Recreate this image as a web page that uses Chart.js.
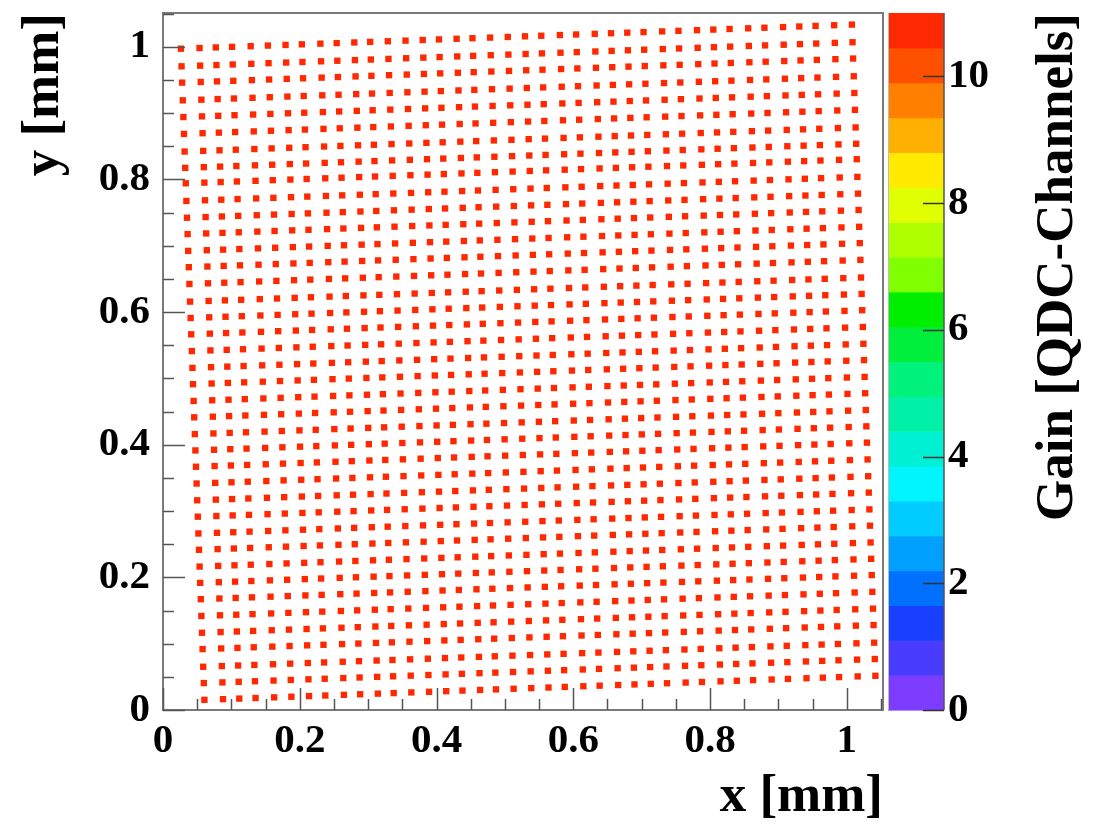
<!DOCTYPE html>
<html><head><meta charset="utf-8">
<script src="https://cdn.jsdelivr.net/npm/chart.js@4.4.1/dist/chart.umd.min.js"></script>
<style>html,body{margin:0;padding:0;background:#fff;} #wrap{width:1094px;height:829px;}</style>
</head><body><div id="wrap"><canvas id="c" width="1094" height="829"></canvas></div>
<script>
// Column x positions (mm) read along the top row of the scan grid
const colX = [0.0262,0.0534,0.0772,0.1010,0.1282,0.1534,0.1792,0.2030,0.2302,0.2540,
              0.2798,0.3030,0.3288,0.3547,0.3798,0.4036,0.4294,0.4526,0.4784,0.5042,
              0.5294,0.5532,0.5804,0.6042,0.6314,0.6552,0.6790,0.7028,0.7300,0.7538,
              0.7810,0.8048,0.8286,0.8558,0.8796,0.9068,0.9306,0.9544,0.9816,1.0075];
// Row y positions (mm) read along the left column of the scan grid
const rowY = [0.9972,0.9706,0.9460,0.9193,0.8941,0.8687,0.8421,0.8175,0.7942,0.7676,
              0.7423,0.7176,0.6923,0.6677,0.6424,0.6158,0.5911,0.5665,0.5412,0.5159,
              0.4913,0.4660,0.4413,0.4160,0.3914,0.3668,0.3415,0.3162,0.2915,0.2662,
              0.2416,0.2163,0.1917,0.1671,0.1418,0.1165,0.0918,0.0652,0.0406,0.0153];
// Measured tilt of the grid: x shift per mm going down, y rise per mm going right
const tiltX = 0.035;
const tiltY = 0.037;
// Gain of the cells (QDC channels) - all in the top colour band
const cellGain = 10.7;
// Tick labels
const axisTicks = [0, 0.2, 0.4, 0.6, 0.8, 1];
const gainTicks = [0, 2, 4, 6, 8, 10];
const xRange = [0, 1.053];
const yRange = [0, 1.051];
const gainRange = [0, 11];

const palette = ['#7d3cff','#4a3cff','#1a40ff','#0070ff','#00a0ff','#00ccff','#00f5ff','#00f0d4','#00f0a8','#00f27c',
                 '#00ee3c','#00ee00','#80ff00','#b0ff00','#e0ff00','#ffea00','#ffb000','#ff8000','#ff5000','#ff2800'];

function gainColor(g){
  const n = palette.length;
  let k = Math.floor((g - gainRange[0]) / (gainRange[1] - gainRange[0]) * n);
  k = Math.max(0, Math.min(n - 1, k));
  return palette[k];
}

const points = [], colors = [];
rowY.forEach((ry) => {
  colX.forEach((cx) => {
    points.push({ x: cx + tiltX * (rowY[0] - ry), y: ry + tiltY * (cx - colX[0]) });
    colors.push(gainColor(cellGain));
  });
});

const FAM = '"Liberation Serif", "Times New Roman", serif';
const tickFont = { family: FAM, size: 41, weight: 'bold', lineHeight: 1.2 };
const titleFont = { family: FAM, size: 53, weight: 'bold', lineHeight: 1.2 };
const fmt = v => (Math.round(v * 10) / 10).toString();
const noPad = s => { s.paddingTop = 0; s.paddingBottom = 0; s.paddingLeft = 0; s.paddingRight = 0; };

const decor = {
  id: 'decor',
  afterDraw(chart) {
    const { ctx, chartArea: a, scales: { x, y, z } } = chart;
    ctx.save();
    // colour bar
    const cbL = a.right + 5, cbR = a.right + 61;
    const n = palette.length;
    for (let k = 0; k < n; k++) {
      const v0 = gainRange[0] + k * (gainRange[1] - gainRange[0]) / n;
      const v1 = gainRange[0] + (k + 1) * (gainRange[1] - gainRange[0]) / n;
      const y0 = z.getPixelForValue(v0), y1 = z.getPixelForValue(v1);
      ctx.fillStyle = palette[k];
      ctx.fillRect(cbL, y1, cbR - cbL, y0 - y1 + 0.6);
    }
    ctx.strokeStyle = '#bbbbbb'; ctx.lineWidth = 1;
    ctx.beginPath(); ctx.moveTo(cbL + 0.5, a.top); ctx.lineTo(cbL + 0.5, a.bottom); ctx.stroke();
    ctx.strokeStyle = '#555555'; ctx.lineWidth = 1.5;
    ctx.beginPath(); ctx.moveTo(cbR, a.top); ctx.lineTo(cbR, a.bottom); ctx.stroke();
    ctx.strokeStyle = '#333333'; ctx.lineWidth = 1.5;
    gainTicks.forEach(v => {
      const py = Math.round(z.getPixelForValue(v)) + 0.5;
      ctx.beginPath(); ctx.moveTo(cbR - 21, py); ctx.lineTo(cbR, py); ctx.stroke();
    });
    // frame
    ctx.strokeStyle = '#7a7a7a'; ctx.lineWidth = 2;
    ctx.strokeRect(a.left, a.top, a.right - a.left, a.bottom - a.top);
    // axis ticks (inside)
    ctx.strokeStyle = '#555555'; ctx.lineWidth = 1.5;
    for (let k = 0; k * 0.05 <= xRange[1] + 1e-9; k++) {
      const v = k * 0.05, major = (k % 4 === 0), len = major ? 22 : 11;
      const px = Math.round(x.getPixelForValue(v)) + 0.5;
      ctx.beginPath(); ctx.moveTo(px, a.bottom); ctx.lineTo(px, a.bottom - len); ctx.stroke();
    }
    for (let k = 0; k * 0.05 <= yRange[1] + 1e-9; k++) {
      const v = k * 0.05, major = (k % 4 === 0), len = major ? 22 : 11;
      const py = Math.round(y.getPixelForValue(v)) + 0.5;
      ctx.beginPath(); ctx.moveTo(a.left, py); ctx.lineTo(a.left + len, py); ctx.stroke();
    }
    // colour bar title
    ctx.translate(a.right + 175, a.top);
    ctx.rotate(-Math.PI / 2);
    ctx.textAlign = 'right'; ctx.textBaseline = 'middle';
    ctx.fillStyle = '#000';
    ctx.font = 'bold 53px ' + FAM;
    ctx.fillText('Gain [QDC-Channels]', 0, 0);
    ctx.restore();
  }
};

new Chart(document.getElementById('c'), {
  type: 'scatter',
  data: {
    datasets: [{
      data: points,
      pointStyle: 'rect',
      pointRadius: 4.5,
      pointHoverRadius: 4.5,
      pointBorderWidth: 0,
      pointBackgroundColor: colors,
      showLine: false
    }]
  },
  options: {
    responsive: false,
    animation: false,
    devicePixelRatio: 1,
    layout: { padding: { top: 13, left: 0, right: 0, bottom: 0 } },
    plugins: { legend: { display: false }, tooltip: { enabled: false } },
    events: [],
    scales: {
      x: {
        type: 'linear', position: 'bottom', min: xRange[0], max: xRange[1],
        grid: { display: false, drawTicks: false }, border: { display: false },
        ticks: { includeBounds: false, padding: 7, font: tickFont, color: '#000', maxRotation: 0, minRotation: 0, autoSkip: false, callback: fmt },
        afterBuildTicks: s => { s.ticks = axisTicks.map(v => ({ value: v })); },
        afterFit: s => { s.height = 119; noPad(s); },
        title: { display: true, text: 'x [mm]', align: 'end', font: titleFont, color: '#000', padding: { top: 0, bottom: 0 } }
      },
      y: {
        type: 'linear', position: 'left', min: yRange[0], max: yRange[1],
        grid: { display: false, drawTicks: false }, border: { display: false },
        ticks: { includeBounds: false, padding: 13, font: tickFont, color: '#000', autoSkip: false, callback: fmt },
        afterBuildTicks: s => { s.ticks = axisTicks.map(v => ({ value: v })); },
        afterFit: s => { s.width = 163; noPad(s); },
        title: { display: true, text: 'y [mm]', align: 'end', font: titleFont, color: '#000', padding: { top: 13, bottom: 0 } }
      },
      z: {
        type: 'linear', position: 'right', min: gainRange[0], max: gainRange[1],
        grid: { display: false, drawTicks: false }, border: { display: false },
        ticks: { includeBounds: false, padding: 65, font: tickFont, color: '#000', autoSkip: false, callback: v => String(v) },
        afterBuildTicks: s => { s.ticks = gainTicks.map(v => ({ value: v })); },
        afterFit: s => { s.width = 211; noPad(s); }
      }
    }
  },
  plugins: [decor]
});
</script>
</body></html>
